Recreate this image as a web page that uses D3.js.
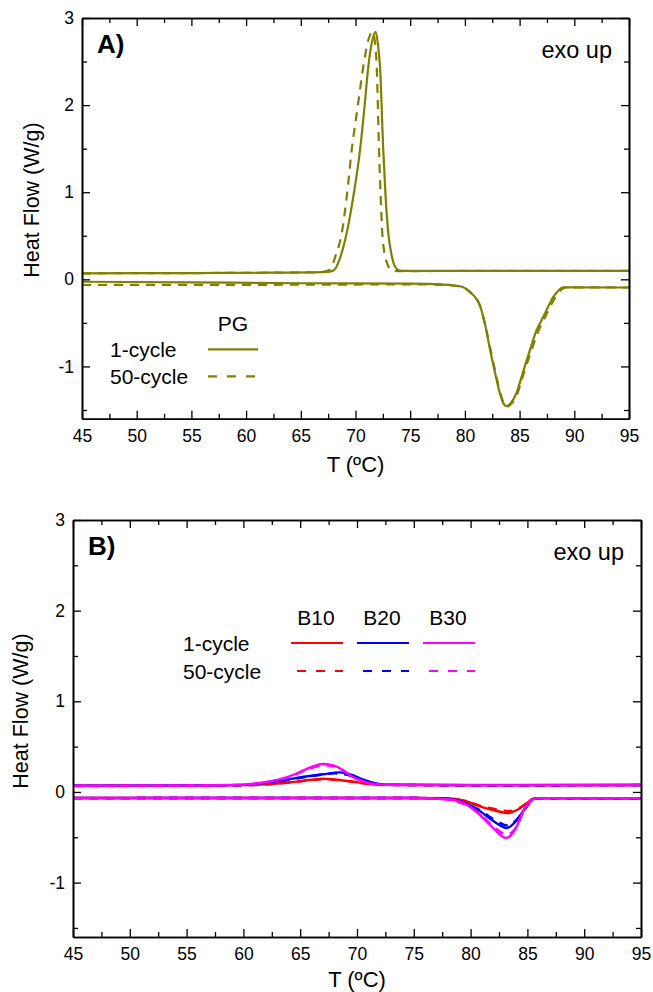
<!DOCTYPE html>
<html>
<head>
<meta charset="utf-8">
<script src="https://cdn.jsdelivr.net/npm/d3@7"></script>
<style>
  body { margin: 0; background: #fff; }
  text { font-family: "Liberation Sans", Arial, sans-serif; fill: #000; }
</style>
</head>
<body>
<svg width="653" height="992"></svg>
<script>
// ---- data: [T (degC), heat flow (W/g)] ----

// panel A, PG
const pgCool1 = [[45,0.069],[55,0.072],[62,0.076],[66,0.08],[67.3,0.085],[67.97,0.1],[68.6,0.25],[69.19,0.528],[69.8,0.95],[70.41,1.48],[70.8,1.95],[71.17,2.44],[71.5,2.72],[71.84,2.84],[72.05,2.7],[72.24,2.44],[72.54,1.48],[72.75,0.95],[73.0,0.528],[73.3,0.28],[73.6,0.15],[74.07,0.1],[75,0.098],[85,0.098],[95,0.098]];
const pgCool50 = [[45,0.069],[55,0.072],[62,0.076],[66,0.08],[67,0.085],[67.67,0.11],[68.2,0.28],[68.74,0.528],[69.2,0.95],[69.65,1.48],[70.2,1.98],[70.71,2.44],[71.2,2.76],[71.57,2.84],[71.78,2.72],[71.94,2.44],[72.15,1.48],[72.3,0.95],[72.45,0.528],[72.65,0.3],[72.9,0.18],[73.3,0.1],[74,0.095],[85,0.097],[95,0.097]];
const pgHeat1 = [[45,-0.028],[55,-0.035],[65,-0.045],[75,-0.05],[78,-0.06],[79.55,-0.08],[80.5,-0.15],[81.4,-0.31],[81.9,-0.55],[82.3,-0.81],[82.75,-1.07],[83.2,-1.31],[83.5,-1.42],[83.82,-1.457],[84.2,-1.42],[84.7,-1.31],[85.3,-1.07],[85.95,-0.81],[86.5,-0.6],[87.17,-0.43],[88.1,-0.2],[89.0,-0.092],[95,-0.094]];
const pgHeat50 = [[45,-0.065],[55,-0.064],[65,-0.062],[75,-0.058],[78,-0.064],[79.55,-0.082],[80.5,-0.15],[81.4,-0.31],[81.9,-0.55],[82.35,-0.81],[82.8,-1.07],[83.25,-1.31],[83.6,-1.43],[83.9,-1.46],[84.3,-1.42],[84.8,-1.31],[85.4,-1.07],[86.1,-0.81],[86.7,-0.6],[87.35,-0.43],[88.3,-0.2],[89.2,-0.092],[95,-0.094]];

// panel B, blends
const b10Cool1 = [[45,0.069],[55,0.07],[60,0.075],[62,0.085],[64,0.105],[66,0.135],[67,0.146],[68,0.138],[69.5,0.115],[71,0.09],[72.5,0.078],[80,0.075],[95,0.077]];
const b10Cool50 = [[45,0.066],[55,0.068],[60,0.073],[62,0.083],[64,0.103],[66,0.13],[67.2,0.14],[68.2,0.132],[69.7,0.11],[71,0.088],[72.5,0.076],[80,0.074],[95,0.076]];
const b20Cool1 = [[45,0.069],[55,0.071],[60,0.078],[62,0.1],[63.8,0.135],[65.5,0.17],[67,0.195],[68.5,0.216],[69.5,0.19],[70.5,0.14],[71.5,0.1],[72.5,0.08],[80,0.075],[95,0.077]];
const b20Cool50 = [[45,0.067],[55,0.069],[60,0.076],[62,0.097],[63.8,0.13],[65.5,0.165],[67,0.192],[68,0.205],[69.2,0.185],[70.3,0.14],[71.3,0.1],[72.5,0.079],[80,0.074],[95,0.076]];
const b30Cool1 = [[45,0.069],[55,0.071],[60,0.08],[62,0.11],[63.8,0.16],[65.5,0.25],[66.3,0.29],[67,0.309],[68,0.29],[69,0.22],[69.7,0.16],[70.5,0.12],[71.4,0.088],[72.5,0.079],[80,0.076],[95,0.077]];
const b30Cool50 = [[45,0.067],[55,0.07],[60,0.079],[62,0.108],[63.8,0.155],[65.5,0.24],[66.5,0.283],[67.2,0.295],[68.2,0.275],[69.1,0.21],[69.8,0.155],[70.6,0.115],[71.5,0.086],[72.5,0.078],[80,0.075],[95,0.076]];
const b10Heat1 = [[45,-0.066],[60,-0.066],[75,-0.066],[77.9,-0.07],[79.5,-0.1],[80.8,-0.159],[82,-0.2],[83.3,-0.232],[84.2,-0.19],[85,-0.12],[85.5,-0.075],[86,-0.068],[95,-0.07]];
const b10Heat50 = [[45,-0.068],[60,-0.067],[75,-0.067],[77.9,-0.072],[79.5,-0.098],[80.8,-0.15],[82,-0.185],[83.4,-0.21],[84.3,-0.175],[85.1,-0.11],[85.6,-0.074],[86,-0.069],[95,-0.071]];
const b20Heat1 = [[45,-0.066],[60,-0.066],[75,-0.066],[77.9,-0.075],[79.5,-0.12],[80.8,-0.21],[82,-0.32],[83.2,-0.397],[84,-0.32],[84.8,-0.18],[85.5,-0.08],[86,-0.068],[95,-0.07]];
const b20Heat50 = [[45,-0.068],[60,-0.067],[75,-0.067],[77.9,-0.077],[79.5,-0.125],[80.8,-0.2],[82,-0.3],[83.3,-0.37],[84.1,-0.3],[84.9,-0.17],[85.6,-0.078],[86,-0.069],[95,-0.071]];
const b30Heat1 = [[45,-0.066],[60,-0.066],[75,-0.066],[77.9,-0.08],[79.5,-0.13],[80.8,-0.25],[82,-0.4],[83.1,-0.507],[83.9,-0.42],[84.7,-0.195],[85.5,-0.08],[86,-0.068],[95,-0.07]];
const b30Heat50 = [[45,-0.068],[60,-0.067],[75,-0.067],[77.9,-0.082],[79.5,-0.14],[80.8,-0.24],[82,-0.38],[83.2,-0.47],[84,-0.39],[84.8,-0.18],[85.6,-0.078],[86,-0.069],[95,-0.071]];

// axes
const tempDomain = [45, 95];
const flowDomain = [-1.6, 3];
const tempMajor = [45, 50, 55, 60, 65, 70, 75, 80, 85, 90, 95];
const tempMinor = [47.5, 52.5, 57.5, 62.5, 67.5, 72.5, 77.5, 82.5, 87.5, 92.5];
const flowMajor = [-1, 0, 1, 2, 3];
const flowMinor = [-1.5, -0.5, 0.5, 1.5, 2.5];

// series names / colours
const olive = "#808000";
const blendNames = ["B10", "B20", "B30"];
const blendColors = ["#ff0000", "#0000ff", "#ff00ff"];
const cycleNames = ["1-cycle", "50-cycle"];

const svg = d3.select("svg");

function drawPanel(p) {
  const x = d3.scaleLinear().domain(tempDomain).range([p.left, p.right]);
  const y = d3.scaleLinear().domain(flowDomain).range([p.bottom, p.top]);
  const g = svg.append("g");

  const line = d3.line()
      .x(d => x(d[0]))
      .y(d => y(d[1]))
      .curve(d3.curveMonotoneX);

  // curves
  p.curves.forEach(c => {
    g.append("path")
        .attr("d", line(c.data))
        .attr("fill", "none")
        .attr("stroke", c.color)
        .attr("stroke-width", p.lw)
        .attr("stroke-dasharray", c.dash ? "9,7" : null);
  });

  // axes, ticks inward on all four sides
  const noLabel = () => "";
  const plain = d => String(d);
  const axes = [
    [d3.axisBottom(x).tickValues(tempMajor).tickSize(-8).tickPadding(11).tickFormat(plain), "translate(0," + p.bottom + ")"],
    [d3.axisBottom(x).tickValues(tempMinor).tickSize(-5).tickFormat(noLabel), "translate(0," + p.bottom + ")"],
    [d3.axisTop(x).tickValues(tempMajor).tickSize(-8).tickFormat(noLabel), "translate(0," + p.top + ")"],
    [d3.axisTop(x).tickValues(tempMinor).tickSize(-5).tickFormat(noLabel), "translate(0," + p.top + ")"],
    [d3.axisLeft(y).tickValues(flowMajor).tickSize(-8).tickPadding(8).tickFormat(plain), "translate(" + p.left + ",0)"],
    [d3.axisLeft(y).tickValues(flowMinor).tickSize(-5).tickFormat(noLabel), "translate(" + p.left + ",0)"],
    [d3.axisRight(y).tickValues(flowMajor).tickSize(-8).tickFormat(noLabel), "translate(" + p.right + ",0)"],
    [d3.axisRight(y).tickValues(flowMinor).tickSize(-5).tickFormat(noLabel), "translate(" + p.right + ",0)"]
  ];
  axes.forEach(a => {
    const ax = g.append("g")
        .attr("transform", a[1])
        .call(a[0].tickSizeOuter(0));
    ax.select(".domain").attr("stroke-width", 1.6);
    ax.selectAll(".tick line").attr("stroke-width", 1.3);
    ax.selectAll("text")
        .style("font-size", "17.5px")
        .style("font-family", "'Liberation Sans', Arial, sans-serif");
  });

  // axis titles
  g.append("text")
      .attr("x", (p.left + p.right) / 2)
      .attr("y", p.xTitleY)
      .attr("text-anchor", "middle")
      .style("font-size", "22px")
      .text("T (ºC)");
  g.append("text")
      .attr("transform", "translate(" + p.yTitleX + "," + p.yTitleCy + ") rotate(-90)")
      .attr("text-anchor", "middle")
      .style("font-size", "21.5px")
      .text("Heat Flow (W/g)");

  // panel letter + note
  g.append("text")
      .attr("x", p.left + 15)
      .attr("y", p.top + 35)
      .style("font-size", "26px")
      .style("font-weight", "bold")
      .text(p.letter);
  g.append("text")
      .attr("x", p.right - 17)
      .attr("y", p.top + 40)
      .attr("text-anchor", "end")
      .style("font-size", "23.5px")
      .text("exo up");

  return {g, x, y};
}

// ---------- panel A ----------
const A = drawPanel({
  left: 82, right: 629, top: 18, bottom: 418.7, lw: 2.2,
  xTitleY: 471.5, yTitleX: 39, yTitleCy: 200, letter: "A)",
  curves: [
    {data: pgCool1, color: olive},
    {data: pgCool50, color: olive, dash: true},
    {data: pgHeat1, color: olive},
    {data: pgHeat50, color: olive, dash: true}
  ]
});

// legend A
A.g.append("text").attr("x", 233).attr("y", 331).attr("text-anchor", "middle")
    .style("font-size", "21px").text("PG");
cycleNames.forEach((n, i) => {
  const yy = 349.3 + i * 27;
  A.g.append("text").attr("x", 110).attr("y", yy + 7.5).style("font-size", "21px").text(n);
  A.g.append("line").attr("x1", 208).attr("x2", 258).attr("y1", yy).attr("y2", yy)
      .attr("stroke", olive).attr("stroke-width", 2.2)
      .attr("stroke-dasharray", i ? "9,10" : null);
});

// ---------- panel B ----------
const bCurves = [];
[[b10Cool1, b10Cool50, b10Heat1, b10Heat50],
 [b20Cool1, b20Cool50, b20Heat1, b20Heat50],
 [b30Cool1, b30Cool50, b30Heat1, b30Heat50]].forEach((set, i) => {
  bCurves.push({data: set[0], color: blendColors[i]});
  bCurves.push({data: set[1], color: blendColors[i], dash: true});
  bCurves.push({data: set[2], color: blendColors[i]});
  bCurves.push({data: set[3], color: blendColors[i], dash: true});
});

const B = drawPanel({
  left: 73, right: 641, top: 520, bottom: 937, lw: 2.4,
  xTitleY: 987, yTitleX: 28, yTitleCy: 711, letter: "B)",
  curves: bCurves
});

// legend B
const legX = [291, 357, 423];
blendNames.forEach((n, i) => {
  B.g.append("text").attr("x", legX[i] + 25).attr("y", 624.5).attr("text-anchor", "middle")
      .style("font-size", "21px").text(n);
});
cycleNames.forEach((n, r) => {
  const yy = 643 + r * 28;
  B.g.append("text").attr("x", 183).attr("y", yy + 7.5).style("font-size", "21px").text(n);
  blendColors.forEach((c, i) => {
    B.g.append("line")
        .attr("x1", legX[i] + (r ? 6 : 0)).attr("x2", legX[i] + 52)
        .attr("y1", yy).attr("y2", yy)
        .attr("stroke", c).attr("stroke-width", 2.2)
        .attr("stroke-dasharray", r ? "9,10" : null);
  });
});
</script>
</body>
</html>
